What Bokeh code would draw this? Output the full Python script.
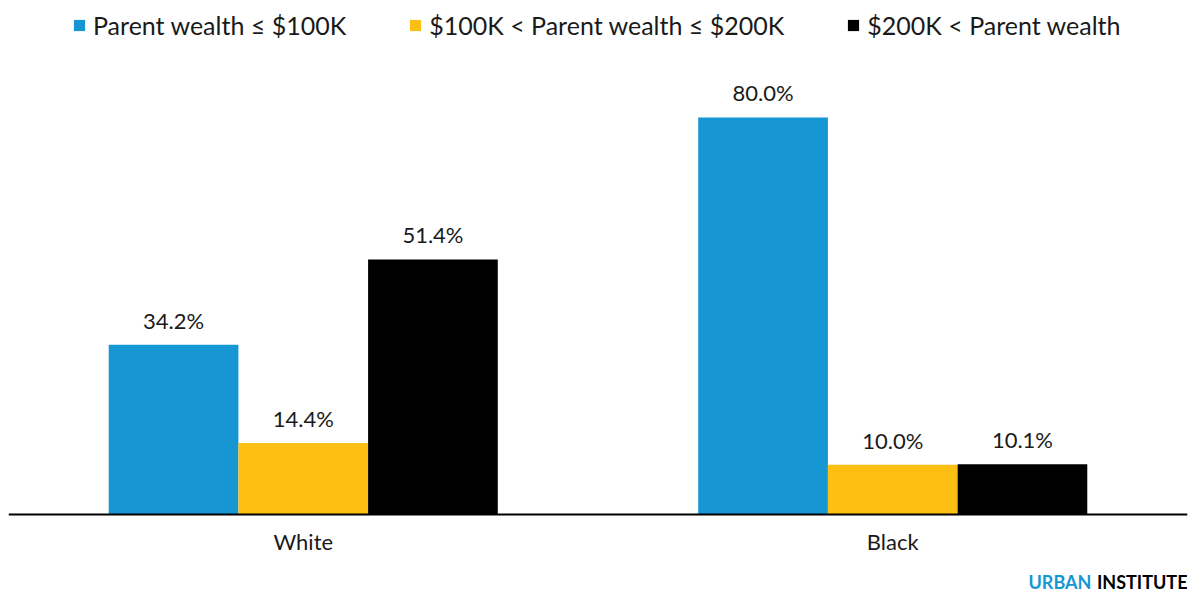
from bokeh.plotting import figure
from bokeh.models import ColumnDataSource, Range1d, FactorRange, LabelSet, Legend, LegendItem, Label
from bokeh.transform import dodge
from bokeh.embed import file_html
from bokeh.resources import INLINE
from bokeh.core.properties import value

groups = ["White", "Black"]
series_names = ["Parent wealth \u2264 $100K", "$100K < Parent wealth \u2264 $200K", "$200K < Parent wealth"]
low = [34.2, 80.0]
mid = [14.4, 10.0]
high = [51.4, 10.1]
colors = ["#1696d2", "#fdbf11", "#000000"]

W, H = 1195, 593
p = figure(width=W, height=H, x_range=FactorRange(*groups), y_range=Range1d(-15.92, 101.96),
           output_backend="svg", toolbar_location=None,
           min_border_left=8, min_border_right=8, min_border_top=8, min_border_bottom=0)
p.outline_line_color = None
p.background_fill_color = "white"
p.grid.visible = False
p.yaxis.visible = False

src = ColumnDataSource(dict(g=groups, low=low, mid=mid, high=high,
                            low_t=[f"{v:.1f}%" for v in low],
                            mid_t=[f"{v:.1f}%" for v in mid],
                            high_t=[f"{v:.1f}%" for v in high]))
bw = 0.22
offs = [-0.22, 0.0, 0.22]
keys = ["low", "mid", "high"]
renderers = []
for k, off, c in zip(keys, offs, colors):
    r = p.vbar(x=dodge("g", off, range=p.x_range), top=k, width=bw, source=src,
               fill_color=c, line_color=None)
    renderers.append(r)
    p.add_layout(LabelSet(x=dodge("g", off, range=p.x_range), y=k, text=k + "_t", source=src,
                          text_align="center", text_baseline="bottom", y_offset=11,
                          text_font=value("Lato"), text_font_size="22px", text_color="#1a1a1a"))

ax = p.xaxis[0]
ax.fixed_location = 0
ax.axis_line_color = "black"
ax.axis_line_width = 2
ax.major_tick_line_color = None
ax.minor_tick_line_color = None
ax.major_tick_out = 0
ax.major_tick_in = 0
ax.major_label_standoff = 14
ax.major_label_text_font = "Lato"
ax.major_label_text_font_size = "22px"
ax.major_label_text_color = "#1a1a1a"

legend = Legend(items=[LegendItem(label=n, renderers=[r]) for n, r in zip(series_names, renderers)],
                orientation="horizontal", location=(64, 553),
                glyph_width=14, glyph_height=14, label_standoff=7, spacing=62,
                padding=0, margin=0, border_line_color=None, background_fill_alpha=0,
                label_text_font="Lato", label_text_font_size="25px", label_text_color="#1a1a1a")
p.add_layout(legend, "center")

p.add_layout(Label(x=1020, y=1, x_units="screen", y_units="screen", text="URBAN",
                   text_font="Lato", text_font_style="bold", text_font_size="18px",
                   text_color="#1696d2", text_align="left", text_baseline="bottom"))
p.add_layout(Label(x=1179, y=1, x_units="screen", y_units="screen", text="INSTITUTE",
                   text_font="Lato", text_font_style="bold", text_font_size="18px",
                   text_color="#000000", text_align="right", text_baseline="bottom"))

open("out.html", "w").write(file_html(p, INLINE))
